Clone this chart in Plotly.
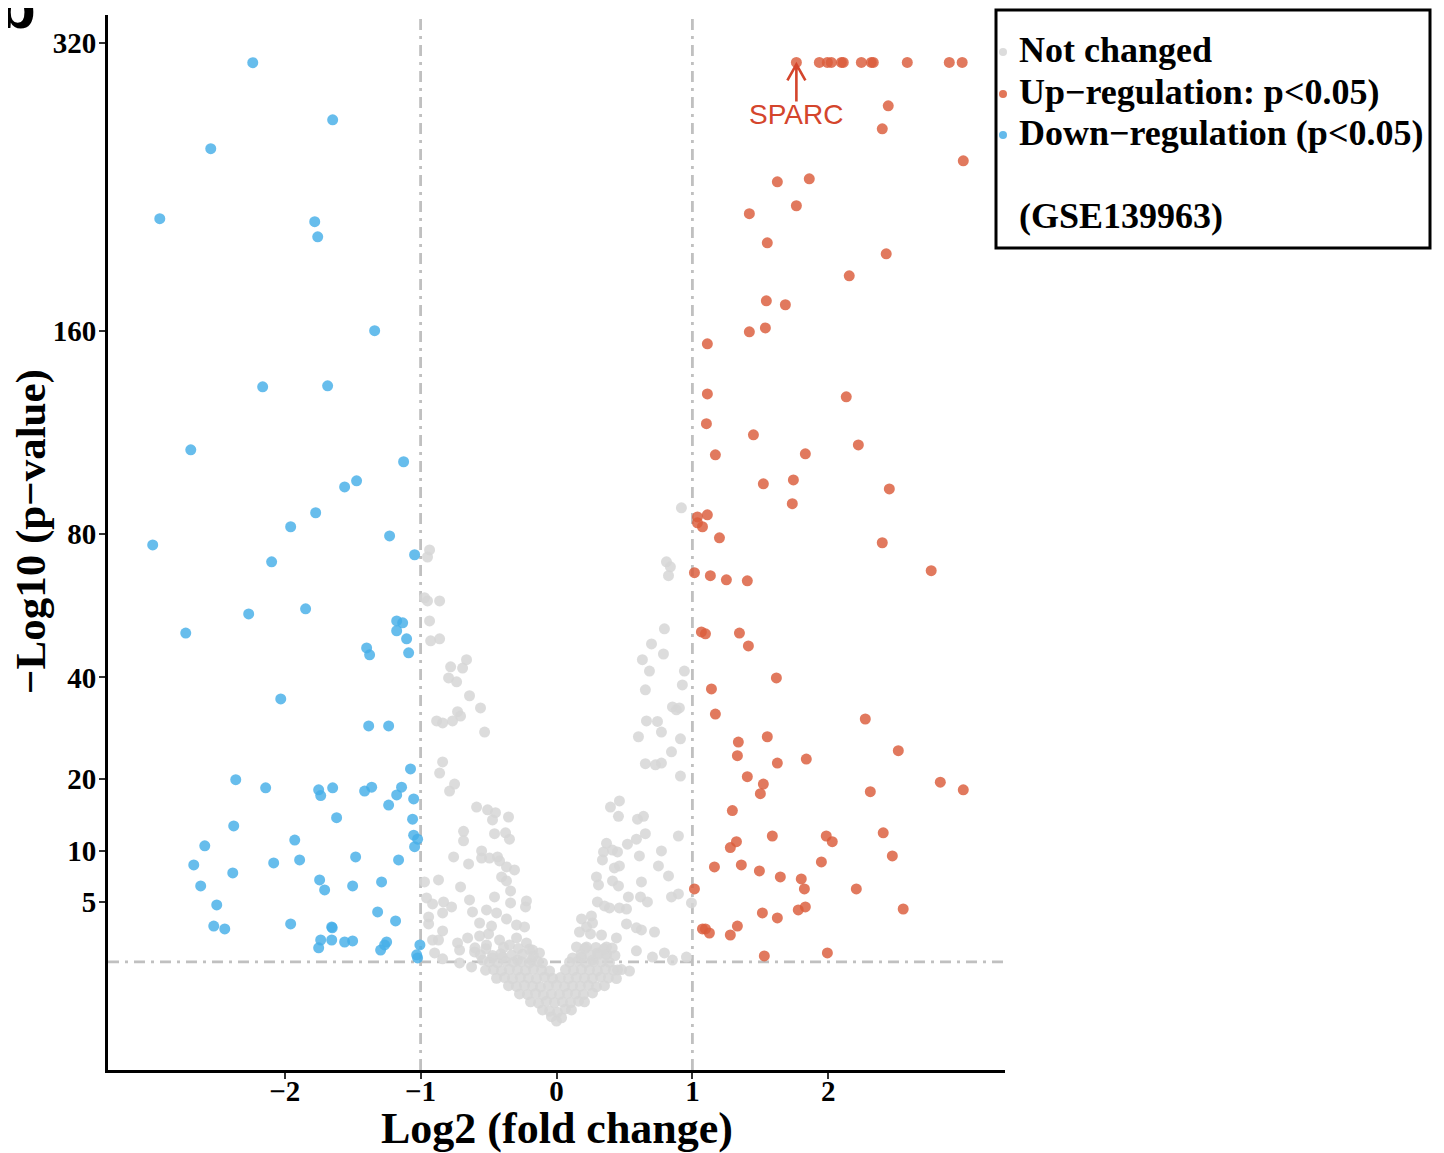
import numpy as np
import plotly.graph_objects as go

# ---------------- data (log2 fold change, -log10 p-value) ----------------
up_x = [1.765, 1.934, 1.993, 2.022, 2.096, 2.110, 2.243, 2.316, 2.331, 2.581, 2.890, 2.985,
        2.441, 2.397, 2.993, 1.625, 1.860, 1.765, 1.419, 1.551, 2.426, 2.154, 1.544, 1.684,
        1.419, 1.537, 1.110, 1.110, 2.132, 1.103, 1.449, 2.221, 1.169, 1.831, 1.522, 1.743,
        2.449, 1.735, 1.037, 1.110, 1.037, 1.074, 1.199, 2.397, 2.757, 1.015, 1.132, 1.250,
        1.404, 1.066, 1.096, 1.346, 1.412, 1.618, 1.140, 1.169, 2.272, 1.338, 1.551, 1.331,
        1.625, 1.838, 2.515, 1.404, 1.522, 1.500, 2.309, 2.824, 2.993, 1.294, 1.588, 1.985,
        2.029, 1.324, 1.279, 2.404, 2.471, 1.162, 1.360, 1.493, 1.647, 1.801, 1.824, 1.949,
        2.206, 1.015, 1.515, 1.625, 1.779, 1.831, 2.551, 1.331, 1.074, 1.096, 1.125, 1.279,
        1.529, 1.993]
up_y = [307.5, 307.5, 307.5, 307.5, 307.5, 307.5, 307.5, 307.5, 307.5, 307.5, 307.5, 307.5,
        280.4, 266.5, 247.8, 235.9, 237.6, 222.7, 218.4, 203.0, 197.3, 186.2, 174.0, 172.1,
        159.4, 161.2, 153.9, 132.1, 130.9, 119.9, 115.5, 111.6, 107.8, 108.2, 97.1, 98.5,
        95.3, 90.1, 85.6, 86.3, 83.6, 82.3, 78.7, 77.1, 68.4, 67.8, 66.9, 65.7,
        65.4, 51.2, 50.7, 50.9, 47.6, 39.9, 37.4, 32.0, 31.0, 26.5, 27.5, 24.0,
        22.7, 23.4, 24.9, 20.4, 19.2, 17.7, 18.0, 19.5, 18.3, 15.2, 11.8, 11.8,
        11.1, 11.1, 10.4, 12.2, 9.44, 8.25, 8.46, 7.83, 7.23, 7.04, 6.10, 8.78,
        6.10, 6.10, 4.13, 3.77, 4.36, 4.59, 4.43, 3.22, 3.03, 3.03, 2.78, 2.66,
        1.56, 1.70]

down_x = [-2.235, -1.647, -2.544, -2.919, -1.779, -1.757, -1.338, -2.162, -1.684, -2.691,
          -1.125, -1.559, -1.471, -1.772, -1.956, -1.228, -2.971, -1.044, -2.096, -2.265,
          -1.846, -2.728, -1.176, -1.132, -1.176, -1.103, -1.397, -1.375, -1.088, -2.029,
          -1.382, -1.235, -1.074, -2.360, -2.140, -1.750, -1.735, -1.647, -1.412, -1.360,
          -1.140, -1.176, -1.235, -1.051, -1.618, -1.059, -2.375, -1.051, -1.022, -1.044,
          -1.926, -2.588, -2.669, -2.081, -1.890, -1.478, -1.162, -2.382, -1.743, -1.706,
          -1.500, -1.287, -2.618, -2.500, -1.316, -1.184, -1.956, -2.522, -2.441, -1.654,
          -1.650, -1.735, -1.654, -1.559, -1.500, -1.750, -1.250, -1.265, -1.294, -1.005,
          -1.029, -1.022]
down_y = [307.3, 271.9, 254.8, 215.7, 214.1, 206.1, 159.9, 135.1, 135.5, 109.7,
          105.2, 96.0, 98.2, 87.0, 82.3, 79.3, 76.4, 73.3, 71.1, 56.0,
          57.4, 50.9, 54.1, 53.6, 51.5, 49.4, 47.1, 45.4, 45.9, 35.2,
          29.6, 29.6, 21.7, 19.9, 18.6, 18.3, 17.4, 18.6, 18.1, 18.7,
          18.7, 17.5, 16.0, 16.9, 14.2, 14.0, 13.1, 11.9, 11.4, 10.5,
          11.3, 10.6, 8.46, 8.67, 9.0, 9.33, 9.0, 7.63, 6.94, 6.01,
          6.38, 6.75, 6.38, 4.75, 4.21, 3.56, 3.36, 3.22, 3.03, 3.16,
          3.10, 2.37, 2.37, 2.26, 2.32, 1.95, 2.26, 2.10, 1.84, 2.10,
          1.61, 1.47]

gray_x = [-0.934, -0.949, -0.971, -0.949, -0.860, -0.934, -0.926, -0.860, -0.779, -0.691,
          -0.662, -0.794, -0.735, -0.640, -0.559, -0.882, -0.838, -0.765, -0.728, -0.706,
          -0.529, -0.838, -0.860, -0.787, -0.750, -0.588, -0.507, -0.449, -0.471, -0.353,
          -0.684, -0.684, -0.456, -0.375, -0.346, -0.551, -0.551, -0.493, -0.434, -0.419,
          -0.757, -0.647, -0.368, -0.309, -0.404, -0.368, -0.338, -0.971, -0.868, -0.706,
          -0.956, -0.912, -0.831, -0.772, -0.640, -0.618, -0.456, -0.515, -0.441, -0.338,
          -0.221, -0.228, -0.941, -0.838, -0.941, -0.566, -0.478, -0.368, -0.294, -0.235,
          -0.838, -0.912, -0.868, -0.654, -0.566, -0.500, -0.419, -0.294, -0.728, -0.713,
          -0.603, -0.515, -0.346, -0.221, -0.176, -0.125, -0.897, -0.838, -0.713, -0.625,
          -0.544, -0.471, -0.397, -0.287, -0.184, -0.103,
          0.919, 0.809, 0.838, 0.824, 0.794, 0.699, 0.787, 0.632, 0.684, 0.941,
          0.926, 0.654, 0.853, 0.882, 0.904, 0.662, 0.743, 0.772, 0.603, 0.912,
          0.846, 0.654, 0.728, 0.772, 0.912, 0.397, 0.463, 0.456, 0.596, 0.640,
          0.654, 0.588, 0.522, 0.368, 0.346, 0.412, 0.449, 0.338, 0.610, 0.772,
          0.897, 0.750, 0.463, 0.426, 0.824, 0.294, 0.309, 0.412, 0.456, 0.625,
          0.529, 0.618, 0.669, 0.846, 0.897, 0.301, 0.353, 0.390, 0.463, 0.515,
          0.993, 0.184, 0.257, 0.265, 0.221, 0.515, 0.588, 0.625, 0.721, 0.169,
          0.331, 0.441, 0.250, 0.147, 0.221, 0.368, 0.301, 0.368, 0.588, 0.706,
          0.794, 0.853, 0.956, 0.537, 0.449, 0.184, 0.118, 0.265,
          -0.037, 0.000, 0.037,
          -0.103, -0.051, 0.007, 0.066, 0.110,
          -0.191, -0.132, -0.074, -0.015, 0.044, 0.103, 0.162, 0.206,
          -0.272, -0.213, -0.154, -0.096, -0.037, 0.022, 0.081, 0.140, 0.199, 0.265,
          -0.353, -0.294, -0.235, -0.176, -0.118, -0.059, 0.000, 0.059, 0.118, 0.176,
          0.235, 0.294, 0.353,
          -0.441, -0.382, -0.324, -0.265, -0.206, -0.147, -0.088, -0.029, 0.029, 0.088,
          0.147, 0.206, 0.265, 0.324, 0.382, 0.441,
          -0.522, -0.463, -0.404, -0.346, -0.287, -0.228, -0.169, -0.110, -0.051, 0.066,
          0.125, 0.184, 0.243, 0.301, 0.360, 0.419, 0.478,
          -0.493, -0.434, -0.375, -0.316, -0.257, -0.199, -0.140, 0.096, 0.154, 0.213,
          0.272, 0.331, 0.390,
          -0.560, -0.470, -0.410, -0.330, -0.250, -0.170, 0.180, 0.250, 0.310, 0.370,
          0.430, -0.600, -0.520, -0.390, -0.280, -0.200, 0.210, 0.290, 0.350, 0.410]
gray_y = [74.8, 72.6, 60.5, 59.6, 59.6, 54.1, 48.9, 49.4, 42.5, 42.2,
          44.2, 39.9, 39.0, 35.9, 33.3, 30.6, 30.2, 30.6, 32.5, 31.6,
          28.4, 22.9, 21.0, 18.1, 19.2, 15.7, 15.3, 14.9, 13.9, 14.3,
          12.4, 11.2, 12.1, 12.2, 11.4, 10.0, 9.2, 9.2, 9.33, 8.89,
          9.33, 8.56, 8.25, 7.93, 7.23, 6.85, 5.92, 6.75, 6.94, 6.28,
          5.32, 4.83, 4.99, 4.59, 5.15, 4.21, 5.40, 4.36, 4.13, 4.91,
          5.07, 4.59, 3.84, 4.13, 3.36, 3.42, 3.22, 3.70, 3.29, 3.16,
          2.91, 2.37, 2.37, 2.49, 2.60, 2.72, 2.37, 2.49, 2.21, 1.84,
          1.75, 2.10, 2.10, 2.21, 1.84, 1.70, 1.70, 1.43, 1.26, 1.10,
          1.38, 1.47, 1.51, 1.38, 1.38, 1.26,
          88.7, 71.1, 69.6, 66.9, 52.0, 48.1, 45.6, 44.2, 41.5, 41.5,
          38.3, 37.2, 33.5, 32.9, 33.3, 30.6, 30.5, 28.4, 27.5, 27.1,
          24.7, 22.6, 22.4, 22.7, 20.5, 15.7, 16.6, 14.4, 14.0, 14.4,
          12.1, 11.4, 10.8, 10.9, 9.89, 10.1, 9.89, 9.0, 9.44, 10.0,
          11.8, 8.35, 8.35, 8.14, 7.33, 7.23, 6.47, 6.85, 6.38, 6.75,
          5.40, 5.40, 4.99, 5.40, 5.66, 4.99, 4.67, 4.51, 4.51, 4.43,
          4.91, 3.70, 3.91, 3.42, 3.16, 3.36, 3.10, 2.97, 2.84, 2.84,
          2.66, 2.49, 2.72, 2.00, 2.00, 2.00, 1.70, 1.65, 1.80, 1.51,
          1.70, 1.38, 1.51, 0.95, 0.99, 1.51, 1.47, 1.38,
          0.020, 0.004, 0.015,
          0.07, 0.06, 0.05, 0.08, 0.07,
          0.17, 0.15, 0.18, 0.16, 0.17, 0.16, 0.18, 0.17,
          0.31, 0.30, 0.32, 0.29, 0.31, 0.30, 0.32, 0.31, 0.30, 0.33,
          0.50, 0.48, 0.51, 0.49, 0.47, 0.50, 0.52, 0.48, 0.50, 0.49,
          0.51, 0.47, 0.50,
          0.71, 0.73, 0.70, 0.74, 0.72, 0.70, 0.75, 0.71, 0.73, 0.70,
          0.74, 0.72, 0.71, 0.75, 0.72, 0.70,
          0.98, 1.00, 0.96, 1.01, 0.99, 0.97, 1.02, 0.98, 0.95, 1.00,
          0.97, 1.01, 0.99, 0.96, 1.02, 0.98, 1.00,
          1.30, 1.27, 1.33, 1.29, 1.31, 1.26, 1.32, 1.29, 1.33, 1.27,
          1.31, 1.30, 1.28,
          1.62, 1.58, 1.66, 1.60, 1.64, 1.57, 1.63, 1.59, 1.65, 1.61,
          1.58, 1.95, 1.90, 1.98, 1.92, 1.88, 1.93, 1.97, 1.90, 1.94]

x_ticks = [-2, -1, 0, 1, 2]
x_ticktext = ["\u22122", "\u22121", "0", "1", "2"]
y_ticks = [5, 10, 20, 40, 80, 160, 320]
y_ticktext = ["5", "10", "20", "40", "80", "160", "320"]

legend_labels = ["Not changed", "Up\u2212regulation: p&lt;0.05)", "Down\u2212regulation (p&lt;0.05)"]
dataset_label = "(GSE139963)"
label_gene = "SPARC"
fc_cut = 1
p_cut = 0.05

# ---------------- styling ----------------
GRAY = "rgba(214,214,214,0.85)"
RED = "rgba(218,92,58,0.82)"
BLUE = "rgba(70,175,232,0.82)"
LBL = "#D4452C"
SERIF = "Liberation Serif, Times New Roman, serif"
SANS = "Liberation Sans, Arial, sans-serif"

# the page body adds an 8px offset; the figure covers reference pixels 8..1444 / 8..1153
OFF = 8
W, H = 1444 - OFF, 1153 - OFF
X0, X1, Y0, Y1 = 108, 1005, 15, 1070          # plot area in reference pixels
ML, MT = X0 - OFF, Y0 - OFF
MR, MB = 1444 - X1, 1153 - Y1
PW, PH = X1 - X0, Y1 - Y0


def px2paper_x(px):
    return (px - X0) / PW


def py2paper_y(py):
    return (Y1 - py) / PH


sq = np.sqrt
fig = go.Figure()
fig.add_trace(go.Scatter(x=gray_x, y=sq(gray_y), mode="markers", name=legend_labels[0],
                         marker=dict(size=11, color=GRAY), showlegend=False))
fig.add_trace(go.Scatter(x=up_x, y=sq(up_y), mode="markers", name=legend_labels[1],
                         marker=dict(size=11, color=RED), showlegend=False))
fig.add_trace(go.Scatter(x=down_x, y=sq(down_y), mode="markers", name=legend_labels[2],
                         marker=dict(size=11, color=BLUE), showlegend=False))

dash = "11px,6px,3px,6px"
ref_col = "#C0C0C0"
shapes = [
    dict(type="line", xref="x", yref="paper", x0=-fc_cut, x1=-fc_cut, y0=0, y1=1,
         line=dict(color=ref_col, width=2.8, dash=dash), layer="below"),
    dict(type="line", xref="x", yref="paper", x0=fc_cut, x1=fc_cut, y0=0, y1=1,
         line=dict(color=ref_col, width=2.8, dash=dash), layer="below"),
    dict(type="line", xref="paper", yref="y", x0=0, x1=1,
         y0=sq(-np.log10(p_cut)), y1=sq(-np.log10(p_cut)),
         line=dict(color=ref_col, width=2.8, dash=dash), layer="below"),
    # legend box
    dict(type="rect", xref="paper", yref="paper",
         x0=px2paper_x(996), x1=px2paper_x(1430), y0=py2paper_y(248), y1=py2paper_y(10),
         line=dict(color="black", width=3), fillcolor="rgba(0,0,0,0)"),
    # SPARC arrow
    dict(type="path", xref="x", yref="y", xsizemode="pixel", ysizemode="pixel",
         xanchor=up_x[0], yanchor=float(sq(up_y[0])),
         path="M0,-39 L0,-2 M-9,-18 L0,-2 L9,-18",
         line=dict(color=LBL, width=2.6)),
]

legend_cols = ["rgb(220,220,220)", "rgb(226,118,88)", "rgb(100,186,235)"]
legend_py = [50, 92, 133]
for c, py in zip(legend_cols, legend_py):
    shapes.append(dict(type="circle", xref="paper", yref="paper",
                       xsizemode="pixel", ysizemode="pixel",
                       xanchor=px2paper_x(1003), yanchor=py2paper_y(py + 2),
                       x0=-4, x1=4, y0=-4, y1=4,
                       fillcolor=c, line=dict(width=0)))

annotations = []
for lab, py in zip(legend_labels + [dataset_label], legend_py + [216]):
    annotations.append(dict(text=lab, xref="paper", yref="paper",
                            x=px2paper_x(1017), y=py2paper_y(py), xanchor="left",
                            yanchor="middle", showarrow=False,
                            font=dict(family=SERIF, size=36, color="black", weight="bold")))

annotations += [
    dict(text="Log2 (fold change)", xref="paper", yref="paper", x=0.5, y=py2paper_y(1128),
         xanchor="center", yanchor="middle", showarrow=False,
         font=dict(family=SERIF, size=44, color="black", weight="bold")),
    dict(text="\u2212Log10 (p\u2212value)", xref="paper", yref="paper", x=px2paper_x(31),
         y=py2paper_y(532), xanchor="center", yanchor="middle", textangle=-90,
         showarrow=False, font=dict(family=SERIF, size=43, color="black", weight="bold")),
    dict(text=label_gene, xref="x", yref="y", x=up_x[0], y=float(sq(up_y[0])),
         yshift=-52, xanchor="center", yanchor="middle", showarrow=False,
         font=dict(family=SANS, size=28, color=LBL)),
    dict(text="b", xref="paper", yref="paper", x=px2paper_x(-4), y=py2paper_y(61),
         yshift=18, xanchor="left", yanchor="bottom", showarrow=False,
         font=dict(family=SANS, size=62, color="black", weight="bold")),
]

axis_font = dict(family=SERIF, size=29, color="black", weight="bold")
fig.update_layout(
    width=W, height=H,
    margin=dict(l=ML, r=MR, t=MT, b=MB, pad=0),
    paper_bgcolor="white", plot_bgcolor="white",
    showlegend=False,
    shapes=shapes, annotations=annotations,
    xaxis=dict(range=[-3.3, 3.3], tickvals=x_ticks, ticktext=x_ticktext,
               showgrid=False, zeroline=False, showline=True, linecolor="black",
               linewidth=3, ticks="outside", ticklen=6, tickwidth=2, tickcolor="#333333",
               tickfont=axis_font, ticklabelstandoff=-13),
    yaxis=dict(range=[-0.83, 18.40], tickvals=list(sq(y_ticks)), ticktext=y_ticktext,
               showgrid=False, zeroline=False, showline=True, linecolor="black",
               linewidth=3, ticks="outside", ticklen=6, tickwidth=2, tickcolor="#333333",
               tickfont=axis_font, ticklabelstandoff=-3),
)

fig.write_html("out.html")
